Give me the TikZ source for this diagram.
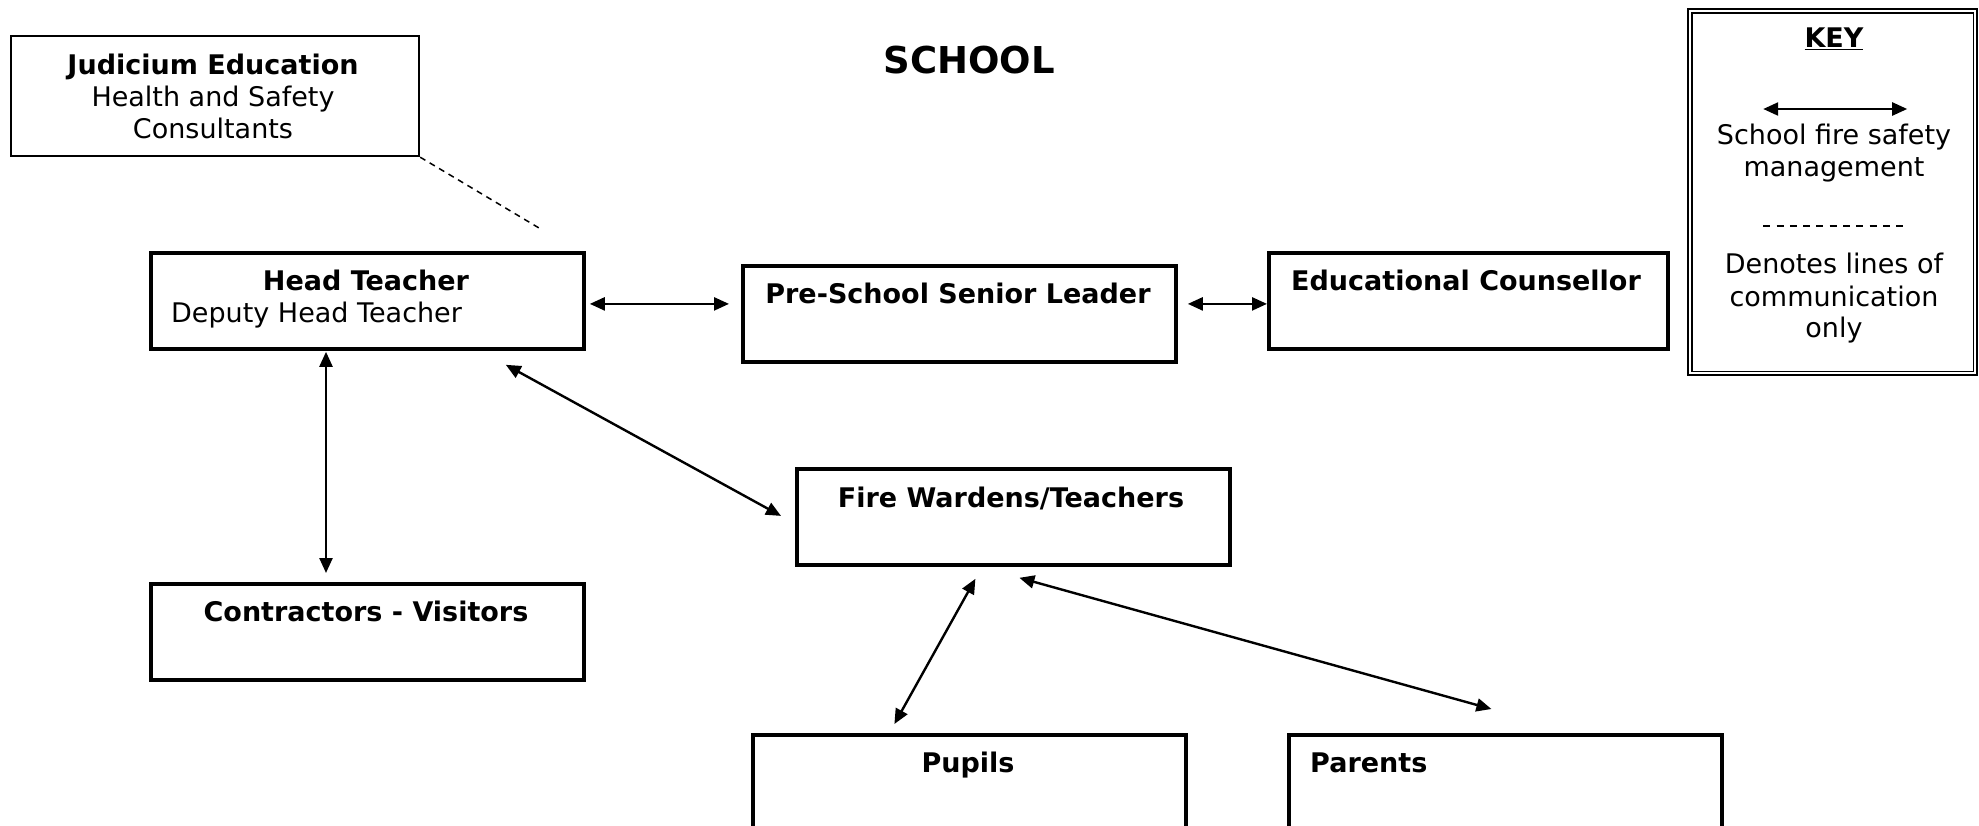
\documentclass[tikz,border=0pt]{standalone}
\usepackage{fontspec}
\setmainfont{DejaVu Sans}
\usetikzlibrary{arrows.meta}
\begin{document}
\begin{tikzpicture}[x=1pt,y=-1pt,
  box/.style={draw, line width=3.8pt, minimum width=433pt, minimum height=96pt, inner sep=0pt, anchor=north west},
  lbl/.style={font=\fontsize{27}{33}\selectfont, inner sep=0pt, anchor=mid},
  blbl/.style={font=\fontsize{27}{33}\selectfont\bfseries, inner sep=0pt, anchor=mid},
  arr/.style={line width=2.4pt, {Triangle[length=15pt,width=13pt]}-{Triangle[length=15pt,width=13pt]}},
  dashline/.style={line width=1.5pt, dash pattern=on 6pt off 5pt}]
\clip (0,0) rectangle (1979,825);
\fill[white] (0,0) rectangle (1979,825);

% title
\node[font=\fontsize{37}{42}\selectfont\bfseries, inner sep=0pt, anchor=mid] (title) at (969,71) {SCHOOL};

% Judicium
\node[draw, line width=2.2pt, minimum width=408pt, minimum height=120pt, inner sep=0pt, anchor=north west] (jud) at (10,35) {};
\node[font=\fontsize{27}{32}\selectfont, align=center, inner sep=0pt] (judt) at (213,96) {\textbf{Judicium Education}\\Health and Safety\\Consultants};

% boxes
\node[box] (ht) at (149,251) {};
\node[blbl] (htt) at (366,288) {Head Teacher};
\node[lbl, anchor=mid west] (htd) at (171,320) {Deputy Head Teacher};

\node[box] (pssl) at (741,264) {};
\node[blbl] (psslt) at (958,301) {Pre-School Senior Leader};

\node[box, minimum width=399pt] (ec) at (1267,251) {};
\node[blbl] (ect) at (1466,288) {Educational Counsellor};

\node[box] (fw) at (795,467) {};
\node[blbl] (fwt) at (1011,505) {Fire Wardens/Teachers};

\node[box] (ct) at (149,582) {};
\node[blbl] (ctt) at (366,619) {Contractors - Visitors};

\node[box, minimum height=130pt] (pu) at (751,733) {};
\node[blbl] (put) at (968,770) {Pupils};

\node[box, minimum height=130pt] (pa) at (1287,733) {};
\node[blbl, anchor=mid west] (pat) at (1310,770) {Parents};

% connectors
\draw[dashline] (jud.south east) -- ([shift={(175,-21)}]ht.north);
\draw[arr] ([shift={(4,3)}]ht.east) -- ([shift={(-12,-10)}]pssl.west);
\draw[arr] ([shift={(10,-10)}]pssl.east) -- ([shift={(0,3)}]ec.west);
\draw[arr] ([shift={(177,1)}]ht.south west) -- ([shift={(177,-9)}]ct.north west);
\draw[arr] ([shift={(-80,14)}]ht.south east) -- ([shift={(-14,-1)}]fw.west);
\draw[arr] ([shift={(-38,12)}]fw.south) -- ([shift={(-75,-9)}]pu.north);
\draw[arr] ([shift={(6,11)}]fw.south) -- ([shift={(-14,-24)}]pa.north);

% key
\node[draw, line width=2.4pt, minimum width=289pt, minimum height=366pt, inner sep=0pt, anchor=north west] (key) at (1687,8) {};
\draw[line width=1.6pt] ([shift={(5,5)}]key.north west) rectangle ([shift={(-5,-5)}]key.south east);
\node[blbl] (keyt) at (1834,45) {\underline{KEY}};
\draw[arr] ([shift={(-69.5,101)}]key.north) -- ([shift={(74.5,101)}]key.north);
\node[lbl] (k1) at (1834,142) {School fire safety};
\node[lbl] (k2) at (1834,174) {management};
\draw[line width=1.6pt, dash pattern=on 7pt off 6.3pt] ([shift={(-69.5,218)}]key.north) -- ([shift={(74.5,218)}]key.north);
\node[lbl] (k3) at (1834,271) {Denotes lines of};
\node[lbl] (k4) at (1834,304) {communication};
\node[lbl] (k5) at (1834,335) {only};
\end{tikzpicture}
\end{document}
